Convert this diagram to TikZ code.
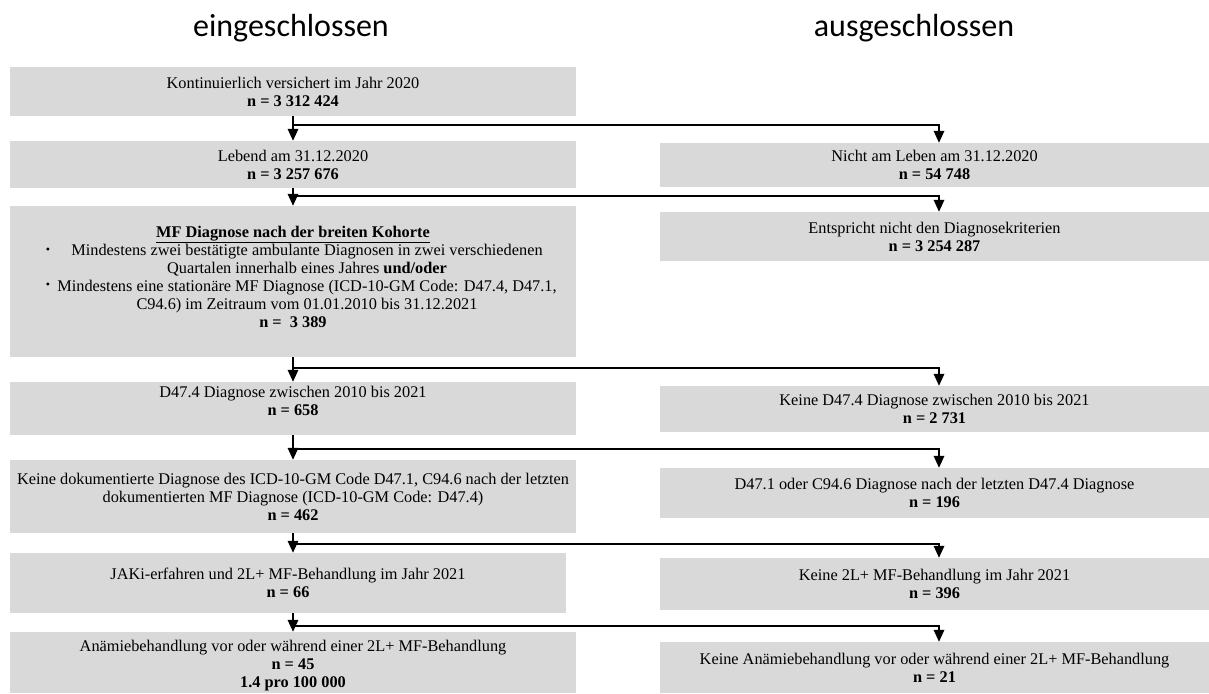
\documentclass[tikz,border=0pt]{standalone}
\usepackage{fontspec}
\setmainfont{Liberation Serif}
\newfontfamily\headfont{Carlito}
\usetikzlibrary{arrows.meta,calc}
\definecolor{boxgray}{HTML}{D9D9D9}
\begin{document}
\begin{tikzpicture}[x=1pt,y=-1pt,
  box/.style={fill=boxgray, draw=none, inner sep=0pt, align=center,
    font=\fontsize{16.3}{18}\selectfont},
  lbox/.style={box, minimum width=566pt},
  rbox/.style={box, minimum width=549pt},
  head/.style={font=\headfont\fontsize{32}{36}\selectfont},
  arr/.style={line width=1.7pt, -{Triangle[length=12pt,width=10.5pt]}},
  bul/.style={inner sep=0pt, font=\fontsize{12}{18}\selectfont}]
\useasboundingbox (0,0) rectangle (1209,693);

% column headings
\node[head] (hin) at (291,28) {eingeschlossen};
\node[head] (hout) at (914,28) {ausgeschlossen};

% included patients
\node[lbox, minimum height=49pt] (L1) at (293,91.5)
  {Kontinuierlich versichert im Jahr 2020\\\textbf{n = 3 312 424}};
\node[lbox, minimum height=47pt] (L2) at (293,164.5)
  {Lebend am 31.12.2020\\\textbf{n = 3 257 676}};
\node[lbox, minimum height=151pt] (L3) at (293,281.5)
  {\textbf{\underline{MF Diagnose nach der breiten Kohorte}}\\
   \hspace*{28pt}Mindestens zwei bestätigte ambulante Diagnosen in zwei verschiedenen\\
   \hspace*{28pt}Quartalen innerhalb eines Jahres \textbf{und/oder}\\
   \hspace*{28pt}Mindestens eine stationäre MF Diagnose (ICD-10-GM Code: D47.4, D47.1,\\
   \hspace*{28pt}C94.6) im Zeitraum vom 01.01.2010 bis 31.12.2021\\
   \textbf{n =\ \ 3 389}\rule[-9pt]{0pt}{9pt}};
\node[bul] (b1) at (48,251) {•};
\node[bul] (b2) at (48,286) {•};
\node[lbox, minimum height=53pt] (L4) at (293,408.5)
  {D47.4 Diagnose zwischen 2010 bis 2021\\\textbf{n = 658}\rule[-15pt]{0pt}{15pt}};
\node[lbox, minimum height=73pt] (L5) at (293,496.5)
  {Keine dokumentierte Diagnose des ICD-10-GM Code D47.1, C94.6 nach der letzten\\
   dokumentierten MF Diagnose (ICD-10-GM Code: D47.4)\\\textbf{n = 462}};
\node[box, minimum width=556pt, minimum height=60pt] (L6) at (288,583)
  {JAKi-erfahren und 2L+ MF-Behandlung im Jahr 2021\\\textbf{n = 66}};
\node[lbox, minimum height=61pt] (L7) at (293,662.5)
  {\rule{0pt}{18pt}Anämiebehandlung vor oder während einer 2L+ MF-Behandlung\\
   \textbf{n = 45}\\\textbf{1.4 pro 100 000}};

% excluded patients
\node[rbox, minimum height=44pt] (R1) at (934.5,165)
  {Nicht am Leben am 31.12.2020\\\textbf{n = 54 748}};
\node[rbox, minimum height=49pt] (R2) at (934.5,236.5)
  {Entspricht nicht den Diagnosekriterien\\\textbf{n = 3 254 287}};
\node[rbox, minimum height=46pt] (R3) at (934.5,409)
  {Keine D47.4 Diagnose zwischen 2010 bis 2021\\\textbf{n = 2 731}};
\node[rbox, minimum height=50pt] (R4) at (934.5,493)
  {D47.1 oder C94.6 Diagnose nach der letzten D47.4 Diagnose\\\textbf{n = 196}};
\node[rbox, minimum height=52pt] (R5) at (934.5,584)
  {Keine 2L+ MF-Behandlung im Jahr 2021\\\textbf{n = 396}};
\node[rbox, minimum height=51pt] (R6) at (934.5,667.5)
  {Keine Anämiebehandlung vor oder während einer 2L+ MF-Behandlung\\\textbf{n = 21}};

% branch points on the main flow
\coordinate (j1) at (293,125);
\coordinate (j2) at (293,196);
\coordinate (j3) at (293,368);
\coordinate (j4) at (293,449);
\coordinate (j5) at (293,544);
\coordinate (j6) at (293,626);

% main flow
\draw[arr] (L1.south) -- (L2.north);
\draw[arr] (L2.south) -- (L3.north);
\draw[arr] (L3.south) -- (L4.north);
\draw[arr] (L4.south) -- (L5.north);
\draw[arr] (L5.south) -- (L5.south |- L6.north);
\draw[arr] (L6.south -| L7.north) -- (L7.north);

% exclusions
\draw[arr] (j1) -| ([xshift=4.5pt]R1.north);
\draw[arr] (j2) -| ([xshift=4.5pt]R2.north);
\draw[arr] (j3) -| ([xshift=4.5pt]R3.north);
\draw[arr] (j4) -| ([xshift=4.5pt]R4.north);
\draw[arr] (j5) -| ([xshift=4.5pt]R5.north);
\draw[arr] (j6) -| ([xshift=4.5pt]R6.north);
\end{tikzpicture}
\end{document}
